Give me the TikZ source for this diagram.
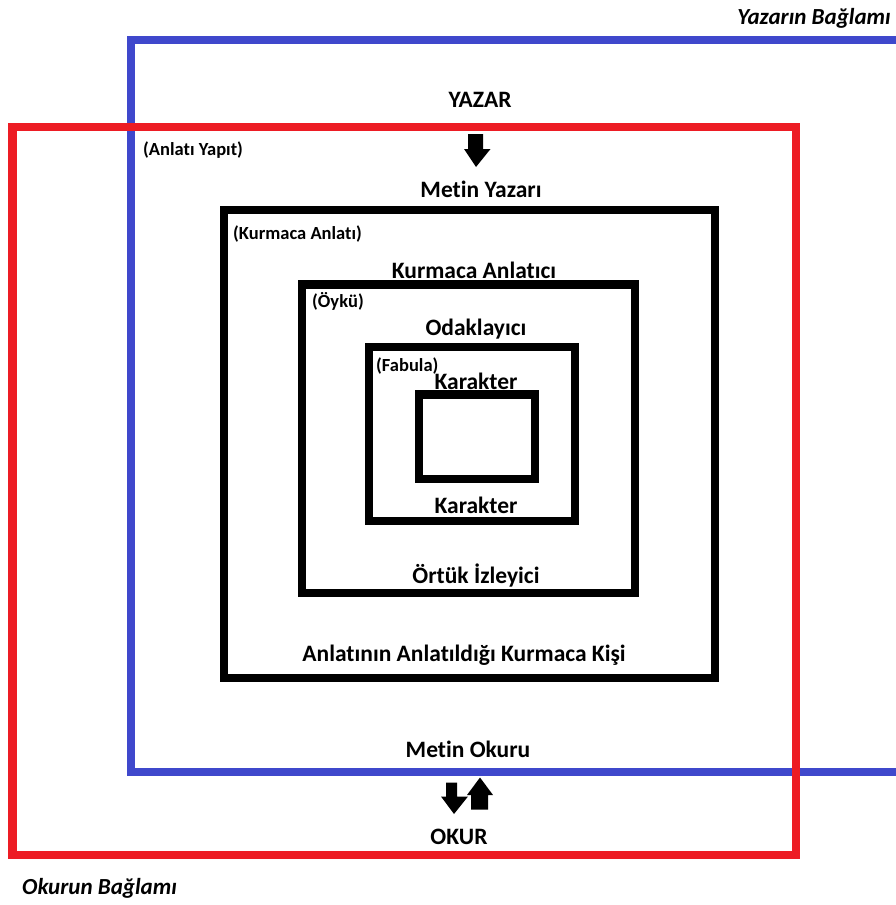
\documentclass[tikz,border=0pt]{standalone}
\usepackage{fontspec}
\setmainfont{Carlito}[Ligatures=NoCommon]
\definecolor{myblue}{HTML}{3F48CC}
\definecolor{myred}{HTML}{ED1C24}
\tikzset{
  lbl/.style={font=\fontsize{23.5}{25}\selectfont\bfseries, inner sep=0pt},
  sm/.style={font=\fontsize{18.5}{20}\selectfont\bfseries, inner sep=0pt, anchor=west},
  ctx/.style={font=\fontsize{23}{25}\selectfont\bfseries\itshape, inner sep=0pt},
  frame/.style={line width=8.5pt, line join=miter},
  blk/.style={fill=black, draw=none}
}
\begin{document}
\begin{tikzpicture}[x=1pt,y=-1pt]
\useasboundingbox (0,0) rectangle (896,905);
\fill[white] (0,0) rectangle (896,905);
\begin{scope}
\clip (0,0) rectangle (896,905);
\draw[frame, myblue] (131,40) rectangle (930,772);
\end{scope}
\draw[frame, myred] (12.5,127) rectangle (796,855);
\draw[frame, black] (224,210) rectangle (715,678);
\draw[frame, black] (302,284.5) rectangle (635,593);
\draw[frame, black] (369,347) rectangle (575,521);
\draw[frame, black] (419,394.5) rectangle (535,479);

\node[ctx, anchor=east] (yb) at (891,18) {Yazarın Bağlamı};
\node[ctx, anchor=west] (ob) at (22,888) {Okurun Bağlamı};

\node[lbl] (yazar) at (480,100) {YAZAR};
\node[sm] (ay) at (143,150) {(Anlatı Yapıt)};
\node[lbl] (my) at (481,189) {Metin Yazarı};
\node[sm] (ka) at (233,234) {(Kurmaca Anlatı)};
\node[lbl] (kan) at (474,270) {Kurmaca Anlatıcı};
\node[sm] (oy) at (312,301) {(Öykü)};
\node[lbl] (od) at (476,329) {Odaklayıcı};
\node[sm] (fa) at (376,366) {(Fabula)};
\node[lbl] (k1) at (476,381) {Karakter};
\node[lbl] (k2) at (476,505) {Karakter};
\node[lbl] (oi) at (476,576) {Örtük İzleyici};
\node[lbl] (akk) at (464,655) {Anlatının Anlatıldığı Kurmaca Kişi};
\node[lbl] (mo) at (468,749) {Metin Okuru};
\node[lbl] (okur) at (459,837) {OKUR};

% arrows
\fill[blk] (468,134) -- (483,134) -- (483,149) -- (490.5,149) -- (476,167) -- (464,149) -- (468,149) -- cycle;
\fill[blk] (446,782.5) -- (457,782.5) -- (457,796.5) -- (468,796.5) -- (454,814) -- (441,796.5) -- (446,796.5) -- cycle;
\fill[blk] (471,809.5) -- (488,809.5) -- (488,795) -- (493,795) -- (480,777.5) -- (467,795) -- (471,795) -- cycle;
\end{tikzpicture}
\end{document}
